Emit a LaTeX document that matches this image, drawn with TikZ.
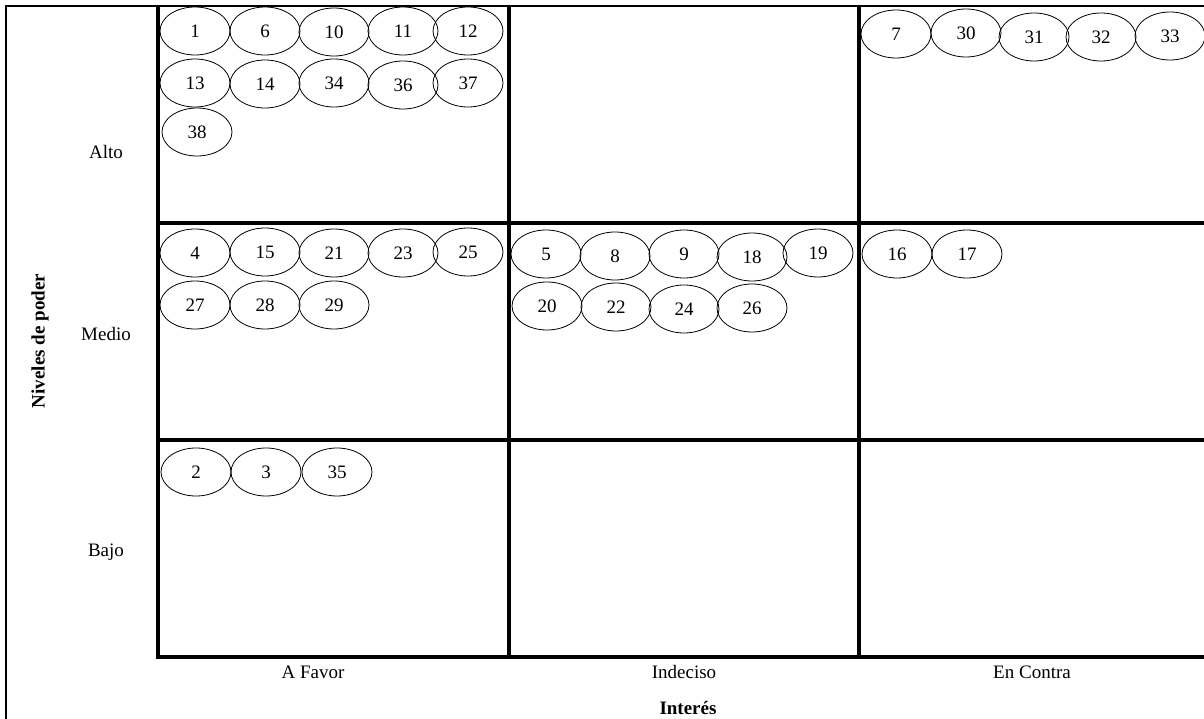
\documentclass[tikz,border=0pt]{standalone}
\usepackage{fontspec}
\setmainfont{Liberation Serif}
\usepackage{tikz}
\usetikzlibrary{shapes.geometric}

\tikzset{
  actor/.style={draw,ellipse,line width=0.8pt,minimum width=70pt,minimum height=48pt,inner sep=0pt,font=\fontsize{19}{23}\selectfont},
  gridline/.style={line width=3.5pt},
  frameline/.style={line width=1.5pt},
  lbl/.style={font=\fontsize{19}{23}\selectfont},
}

\begin{document}
\begin{tikzpicture}[x=1pt,y=-1pt]
    \clip (0,0) rectangle (1204,719);
    % outer frame
    \draw[frameline] (6,730) -- (6,6) -- (1215,6);
    % grid
    \draw[gridline] (158,6) -- (158,657) -- (1215,657);
    \draw[gridline] (509,6) -- (509,657);
    \draw[gridline] (859,6) -- (859,657);
    \draw[gridline] (158,223) -- (1215,223);
    \draw[gridline] (158,440) -- (1215,440);
    % axis labels
    \node[lbl,font=\fontsize{19}{23}\selectfont\bfseries,rotate=90] (poder) at (40,341) {Niveles de poder};
    \node[lbl] (alto) at (106,152) {Alto};
    \node[lbl] (medio) at (106,334) {Medio};
    \node[lbl] (bajo) at (106,552) {Bajo};
    \node[lbl] (favor) at (313,672) {A Favor};
    \node[lbl] (indeciso) at (684,672) {Indeciso};
    \node[lbl] (contra) at (1032,672) {En Contra};
    \node[lbl,font=\fontsize{19}{23}\selectfont\bfseries] (interes) at (688,708) {Interés};
    % alto - a favor
    \node[actor] (a1) at (195,31) {1};
    \node[actor] (a6) at (265,31) {6};
    \node[actor] (a10) at (334,32) {10};
    \node[actor] (a11) at (403,31) {11};
    \node[actor] (a12) at (468,31) {12};
    \node[actor] (a13) at (195,83) {13};
    \node[actor] (a14) at (265,84) {14};
    \node[actor] (a34) at (334,83) {34};
    \node[actor] (a36) at (403,85) {36};
    \node[actor] (a37) at (468,83) {37};
    \node[actor] (a38) at (197,132) {38};
    % alto - en contra
    \node[actor] (a7) at (896,34) {7};
    \node[actor] (a30) at (966,33) {30};
    \node[actor] (a31) at (1034,37) {31};
    \node[actor] (a32) at (1101,37) {32};
    \node[actor] (a33) at (1170,36) {33};
    % medio - a favor
    \node[actor] (a4) at (195,253) {4};
    \node[actor] (a15) at (265,252) {15};
    \node[actor] (a21) at (334,253) {21};
    \node[actor] (a23) at (403,253) {23};
    \node[actor] (a25) at (468,252) {25};
    \node[actor] (a27) at (195,305) {27};
    \node[actor] (a28) at (265,305) {28};
    \node[actor] (a29) at (334,305) {29};
    % medio - indeciso
    \node[actor] (a5) at (546,254) {5};
    \node[actor] (a8) at (615,256) {8};
    \node[actor] (a9) at (684,254) {9};
    \node[actor] (a18) at (752,257) {18};
    \node[actor] (a19) at (818,253) {19};
    \node[actor] (a20) at (547,306) {20};
    \node[actor] (a22) at (616,307) {22};
    \node[actor] (a24) at (684,309) {24};
    \node[actor] (a26) at (752,308) {26};
    % medio - en contra
    \node[actor] (a16) at (897,254) {16};
    \node[actor] (a17) at (967,254) {17};
    % bajo - a favor
    \node[actor] (a2) at (196,472) {2};
    \node[actor] (a3) at (266,472) {3};
    \node[actor] (a35) at (337,472) {35};
\end{tikzpicture}
\end{document}
